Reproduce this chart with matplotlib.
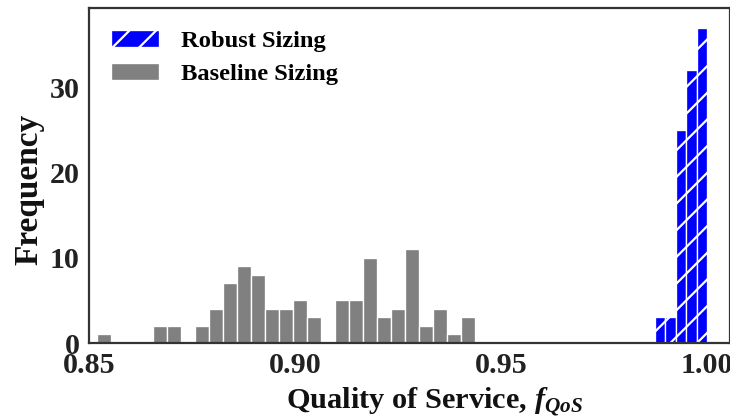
import numpy as np
import matplotlib
matplotlib.use("Agg")
import matplotlib.pyplot as plt

# Histogram counts per bin (Quality of Service, f_QoS)
baseline_counts = [1, 0, 0, 0, 2, 2, 0, 2, 4, 7, 9, 8, 4, 4, 5, 3, 0,
                   5, 5, 10, 3, 4, 11, 2, 4, 1, 3]
baseline_range = (0.8520, 0.9438)

robust_counts = [3, 3, 25, 32, 37]
robust_range = (0.9874, 1.0000)

x_ticks = [0.85, 0.90, 0.95, 1.00]
x_tick_labels = ["0.85", "0.90", "0.95", "1.00"]
y_ticks = [0, 10, 20, 30]

plt.rcParams["font.family"] = ["Liberation Serif", "DejaVu Serif"]
plt.rcParams["font.weight"] = "bold"
plt.rcParams["axes.labelweight"] = "bold"
plt.rcParams["mathtext.fontset"] = "custom"
plt.rcParams["mathtext.rm"] = "Liberation Serif:bold"
plt.rcParams["mathtext.it"] = "Liberation Serif:italic:bold"
plt.rcParams["mathtext.bf"] = "Liberation Serif:bold"
plt.rcParams["hatch.color"] = "white"
plt.rcParams["hatch.linewidth"] = 1.0

DPI = 160
fig = plt.figure(figsize=(730 / DPI, 420 / DPI), dpi=DPI)
ax = fig.add_axes([88.5 / 730, 1 - 343 / 420, 1 - 88.5 / 730, (343 - 8) / 420])

b_edges = np.linspace(*baseline_range, len(baseline_counts) + 1)
r_edges = np.linspace(*robust_range, len(robust_counts) + 1)

ax.hist(r_edges[:-1], bins=r_edges, weights=robust_counts,
        color="#0000ff", edgecolor="white", linewidth=0.6,
        hatch="//", label="Robust Sizing")
ax.hist(b_edges[:-1], bins=b_edges, weights=baseline_counts,
        color="#808080", edgecolor="white", linewidth=0.6,
        label="Baseline Sizing")

ax.set_xlim(0.8499, 1.0056)
ax.set_ylim(0, 39.3)
ax.set_xticks(x_ticks)
ax.set_xticklabels(x_tick_labels)
ax.set_yticks(y_ticks)
ax.tick_params(length=0, labelsize=13.5, colors="#222222", pad=4)
for s in ax.spines.values():
    s.set_color("#333333")
    s.set_linewidth(1.0)

ax.set_xlabel(r"Quality of Service, $f_{QoS}$", fontsize=13.7, color="#111111")
ax.set_ylabel("Frequency", fontsize=15, color="#111111")
ax.xaxis.set_label_coords(0.539, -0.127)
ax.yaxis.set_label_coords(-0.069, 0.46)

ax.legend(loc="upper left", frameon=False, fontsize=11,
          handlelength=2.0, handletextpad=0.9, labelspacing=0.45)

fig.savefig("out.png", dpi=DPI)
